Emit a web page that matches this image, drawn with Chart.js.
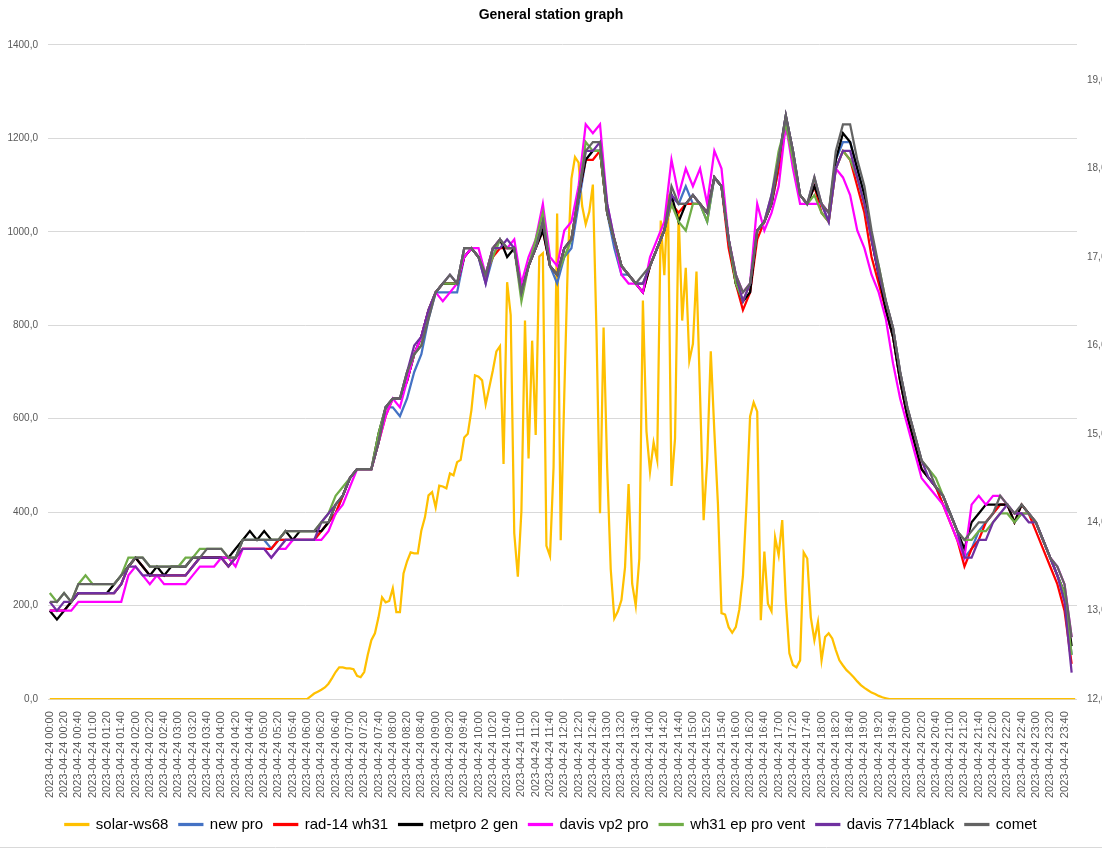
<!DOCTYPE html>
<html>
<head>
<meta charset="utf-8">
<title>General station graph</title>
<script src="https://cdn.jsdelivr.net/npm/chart.js@4.4.1/dist/chart.umd.min.js"></script>
<style>
  html, body { margin: 0; padding: 0; background: #fff; }
  #wrap { position: relative; width: 1102px; height: 850px; }
</style>
</head>
<body>
<div id="wrap"><canvas id="grafico" width="1102" height="850"></canvas></div>
<script>
// categorias: cada 5 minutos del 2023-04-24
const TIMES = [];
for (let h = 0; h < 24; h++) {
    for (let m = 0; m < 60; m += 5) {
        TIMES.push('2023-04-24 ' + String(h).padStart(2, '0') + ':' + String(m).padStart(2, '0'));
    }
}

const LEFT_TICKS = [0, 200, 400, 600, 800, 1000, 1200, 1400];
const RIGHT_TICKS = [12.6, 13.6, 14.6, 15.6, 16.6, 17.6, 18.6, 19.6];

// radiacion solar (W/m2), cada 5 minutos
const solarWs68 = [
    0,0,0,0,0,0,0,0,0,0,0,0,0,0,0,0,0,0,0,0,0,0,0,0,
    0,0,0,0,0,0,0,0,0,0,0,0,0,0,0,0,0,0,0,0,0,0,0,0,
    0,0,0,0,0,0,0,0,0,0,0,0,0,0,0,0,0,0,0,0,0,0,0,0,
    0,6,12,16,20,25,33,45,58,68,68,66,66,64,50,47,58,95,126,141,175,218,207,210,
    237,186,186,269,295,314,312,312,361,389,436,443,410,457,455,451,483,479,507,512,560,568,618,693,
    690,682,631,667,703,744,755,503,892,822,355,262,402,810,515,767,565,947,954,328,306,496,1039,340,
    651,938,1113,1160,1148,1055,1016,1043,1101,791,398,795,496,278,173,188,212,282,460,247,200,301,853,573,
    487,549,511,1024,907,1080,456,558,1039,810,923,724,760,915,651,383,511,744,573,418,184,181,154,142,
    154,192,263,418,605,635,615,169,316,204,188,346,308,383,212,98,73,68,83,314,301,175,126,165,
    83,133,141,130,105,83,72,62,55,47,38,30,24,19,14,11,7,4,2,0,0,0,0,0,
    0,0,0,0,0,0,0,0,0,0,0,0,0,0,0,0,0,0,0,0,0,0,0,0,
    0,0,0,0,0,0,0,0,0,0,0,0,0,0,0,0,0,0,0,0,0,0,0,0
];

// temperaturas (C), cada 10 minutos
const newPro = [
    13.6,13.6,13.6,13.7,13.8,13.8,13.8,13.8,13.8,13.8,
    13.9,14.1,14.2,14.1,14.0,14.0,14.0,14.0,14.0,14.0,
    14.1,14.2,14.2,14.2,14.2,14.1,14.2,14.4,14.4,14.4,
    14.4,14.3,14.4,14.4,14.4,14.4,14.4,14.4,14.5,14.6,
    14.7,14.9,15.1,15.2,15.2,15.2,15.5,15.9,15.9,15.8,
    16.0,16.3,16.5,16.9,17.2,17.2,17.2,17.2,17.6,17.7,
    17.6,17.3,17.6,17.8,17.7,17.7,17.2,17.5,17.7,18.0,
    17.5,17.3,17.6,17.7,18.2,18.7,18.8,18.8,18.1,17.7,
    17.4,17.4,17.3,17.3,17.5,17.7,17.9,18.3,18.2,18.4,
    18.2,18.2,18.0,18.5,18.4,17.8,17.3,17.1,17.2,17.9,
    18.0,18.2,18.6,19.1,18.7,18.3,18.2,18.4,18.2,18.0,
    18.7,18.9,18.9,18.6,18.3,17.8,17.4,17.0,16.7,16.2,
    15.8,15.5,15.2,15.1,15.0,14.8,14.7,14.5,14.2,14.3,
    14.5,14.6,14.7,14.8,14.8,14.6,14.7,14.7,14.6,14.4,
    14.2,14.0,13.8,13.1
];
const rad14Wh31 = [
    13.6,13.6,13.6,13.7,13.8,13.8,13.8,13.8,13.8,13.8,
    13.9,14.1,14.2,14.1,14.0,14.0,14.0,14.0,14.0,14.0,
    14.1,14.2,14.2,14.2,14.2,14.1,14.2,14.3,14.3,14.3,
    14.3,14.3,14.4,14.4,14.4,14.4,14.4,14.4,14.5,14.6,
    14.7,14.9,15.1,15.2,15.2,15.2,15.5,15.8,16.0,16.0,
    16.2,16.5,16.7,17.0,17.2,17.3,17.3,17.3,17.6,17.7,
    17.6,17.4,17.6,17.7,17.7,17.7,17.2,17.5,17.7,17.9,
    17.5,17.4,17.7,17.8,18.3,18.7,18.7,18.8,18.1,17.8,
    17.5,17.4,17.3,17.2,17.5,17.7,17.9,18.2,18.1,18.2,
    18.2,18.2,18.1,18.5,18.4,17.7,17.3,17.0,17.2,17.8,
    18.0,18.2,18.6,19.1,18.7,18.3,18.2,18.4,18.1,18.0,
    18.6,18.8,18.7,18.4,18.1,17.6,17.3,17.0,16.7,16.2,
    15.8,15.5,15.2,15.1,15.0,14.8,14.6,14.4,14.1,14.3,
    14.4,14.6,14.7,14.8,14.8,14.6,14.8,14.7,14.5,14.3,
    14.1,13.9,13.6,13.0
];
const metpro2Gen = [
    13.6,13.5,13.6,13.7,13.8,13.8,13.8,13.8,13.8,13.9,
    14.0,14.1,14.2,14.1,14.0,14.1,14.0,14.1,14.1,14.1,
    14.2,14.2,14.2,14.2,14.2,14.2,14.3,14.4,14.5,14.4,
    14.5,14.4,14.4,14.5,14.4,14.5,14.5,14.5,14.5,14.6,
    14.8,14.9,15.1,15.2,15.2,15.2,15.6,15.9,16.0,16.0,
    16.2,16.5,16.7,17.0,17.2,17.3,17.3,17.3,17.6,17.7,
    17.6,17.4,17.7,17.8,17.6,17.7,17.2,17.5,17.7,17.9,
    17.5,17.4,17.7,17.8,18.3,18.7,18.8,18.8,18.1,17.8,
    17.5,17.4,17.3,17.2,17.5,17.7,17.9,18.3,18.0,18.2,
    18.3,18.2,18.1,18.5,18.4,17.8,17.3,17.1,17.2,17.9,
    18.0,18.2,18.7,19.2,18.8,18.3,18.2,18.4,18.2,18.1,
    18.7,19.0,18.9,18.6,18.3,17.8,17.4,17.0,16.7,16.2,
    15.8,15.5,15.2,15.1,15.0,14.9,14.7,14.5,14.3,14.6,
    14.7,14.8,14.8,14.8,14.8,14.6,14.8,14.7,14.6,14.4,
    14.2,14.0,13.8,13.2
];
const davisVp2Pro = [
    13.6,13.6,13.6,13.6,13.7,13.7,13.7,13.7,13.7,13.7,
    13.7,14.0,14.1,14.0,13.9,14.0,13.9,13.9,13.9,13.9,
    14.0,14.1,14.1,14.1,14.2,14.2,14.1,14.3,14.3,14.3,
    14.3,14.2,14.3,14.3,14.4,14.4,14.4,14.4,14.4,14.5,
    14.7,14.8,15.0,15.2,15.2,15.2,15.5,15.8,16.0,15.9,
    16.2,16.5,16.7,17.0,17.2,17.1,17.2,17.3,17.6,17.7,
    17.7,17.4,17.7,17.8,17.7,17.8,17.3,17.6,17.8,18.2,
    17.6,17.5,17.9,18.0,18.4,19.1,19.0,19.1,18.2,17.8,
    17.4,17.3,17.3,17.2,17.6,17.8,18.0,18.7,18.3,18.6,
    18.4,18.6,18.2,18.8,18.6,17.8,17.4,17.2,17.3,18.2,
    17.9,18.1,18.4,19.1,18.6,18.2,18.2,18.2,18.2,18.1,
    18.6,18.5,18.3,17.9,17.7,17.4,17.2,16.9,16.4,16.0,
    15.7,15.4,15.1,15.0,14.9,14.8,14.6,14.4,14.2,14.8,
    14.9,14.8,14.9,14.9,14.8,14.7,14.7,14.7,14.6,14.4,
    14.2,14.1,13.9,13.3
];
const wh31EpProVent = [
    13.8,13.7,13.8,13.7,13.9,14.0,13.9,13.9,13.9,13.9,
    14.0,14.2,14.2,14.2,14.1,14.1,14.1,14.1,14.1,14.2,
    14.2,14.3,14.3,14.3,14.3,14.2,14.2,14.4,14.4,14.4,
    14.4,14.4,14.4,14.5,14.5,14.5,14.5,14.5,14.6,14.7,
    14.9,15.0,15.1,15.2,15.2,15.2,15.6,15.9,16.0,16.0,
    16.3,16.5,16.6,17.0,17.2,17.3,17.3,17.3,17.7,17.7,
    17.6,17.4,17.6,17.8,17.7,17.7,17.1,17.5,17.8,18.1,
    17.5,17.4,17.6,17.8,18.3,18.9,18.8,18.8,18.1,17.8,
    17.5,17.4,17.3,17.3,17.5,17.7,17.9,18.2,18.0,17.9,
    18.2,18.2,18.0,18.5,18.4,17.8,17.3,17.1,17.3,17.9,
    18.0,18.3,18.8,19.1,18.7,18.3,18.2,18.3,18.1,18.0,
    18.6,18.8,18.7,18.5,18.2,17.8,17.5,17.1,16.8,16.3,
    15.9,15.6,15.3,15.2,15.1,14.9,14.7,14.5,14.4,14.4,
    14.5,14.5,14.6,14.7,14.7,14.6,14.7,14.7,14.6,14.4,
    14.2,14.0,13.8,13.1
];
const davis7714Black = [
    13.7,13.6,13.7,13.7,13.8,13.8,13.8,13.8,13.8,13.8,
    13.9,14.1,14.1,14.0,14.0,14.0,14.0,14.0,14.0,14.0,
    14.1,14.2,14.2,14.2,14.2,14.1,14.2,14.3,14.3,14.3,
    14.3,14.2,14.3,14.4,14.4,14.4,14.4,14.4,14.6,14.7,
    14.8,14.9,15.1,15.2,15.2,15.2,15.5,15.9,16.0,16.0,
    16.3,16.6,16.7,17.0,17.2,17.3,17.4,17.3,17.7,17.7,
    17.6,17.3,17.7,17.7,17.8,17.7,17.2,17.5,17.7,18.0,
    17.5,17.4,17.7,17.8,18.3,18.8,18.8,18.9,18.2,17.8,
    17.5,17.4,17.3,17.3,17.5,17.7,17.9,18.3,18.2,18.2,
    18.3,18.2,18.1,18.5,18.4,17.8,17.4,17.1,17.3,17.9,
    18.0,18.3,18.7,19.2,18.8,18.3,18.2,18.5,18.2,18.0,
    18.6,18.8,18.8,18.5,18.2,17.8,17.4,17.1,16.8,16.3,
    15.9,15.6,15.3,15.1,15.0,14.9,14.7,14.5,14.2,14.2,
    14.4,14.4,14.6,14.7,14.8,14.7,14.7,14.6,14.6,14.4,
    14.2,14.0,13.7,12.9
];
const comet = [
    13.7,13.7,13.8,13.7,13.9,13.9,13.9,13.9,13.9,13.9,
    14.0,14.1,14.2,14.2,14.1,14.1,14.1,14.1,14.1,14.1,
    14.2,14.2,14.3,14.3,14.3,14.2,14.2,14.4,14.4,14.4,
    14.4,14.4,14.4,14.5,14.5,14.5,14.5,14.5,14.6,14.6,
    14.8,14.9,15.1,15.2,15.2,15.2,15.5,15.9,16.0,16.0,
    16.3,16.5,16.6,16.9,17.2,17.3,17.4,17.3,17.7,17.7,
    17.6,17.4,17.7,17.8,17.7,17.7,17.2,17.5,17.7,18.0,
    17.5,17.4,17.7,17.8,18.3,18.8,18.9,18.9,18.1,17.8,
    17.5,17.4,17.3,17.4,17.5,17.7,17.9,18.4,18.2,18.2,
    18.3,18.2,18.1,18.5,18.4,17.8,17.4,17.2,17.3,17.9,
    18.0,18.2,18.7,19.2,18.8,18.3,18.2,18.5,18.2,18.1,
    18.8,19.1,19.1,18.7,18.4,17.9,17.5,17.1,16.8,16.3,
    15.9,15.6,15.3,15.2,15.0,14.9,14.7,14.5,14.4,14.5,
    14.6,14.6,14.7,14.9,14.8,14.7,14.8,14.7,14.6,14.4,
    14.2,14.1,13.9,13.3
];

// las temperaturas van cada 10 min: se colocan en la categoria que les toca
function cada10(valores) {
    return valores.map((v, i) => ({ x: TIMES[i * 2], y: v }));
}

function coma(v) {
    return Number(v).toFixed(1).replace('.', ',');
}

const lineaInferior = {
    id: 'lineaInferior',
    afterDraw(chart) {
        const c = chart.ctx;
        c.save();
        c.strokeStyle = '#d9d9d9';
        c.lineWidth = 1;
        c.beginPath();
        c.moveTo(0, 847.5);
        c.lineTo(chart.width, 847.5);
        c.stroke();
        c.restore();
    }
};

function serie(label, data, color, eje, orden) {
    return {
        label: label,
        data: data,
        borderColor: color,
        backgroundColor: color,
        borderWidth: 2.25,
        pointRadius: 0,
        tension: 0,
        fill: false,
        yAxisID: eje,
        order: orden
    };
}

Chart.defaults.font.family = "'Liberation Sans', Arial, sans-serif";

const ctx = document.getElementById('grafico').getContext('2d');
new Chart(ctx, {
    type: 'line',
    data: {
        labels: TIMES,
        datasets: [
            serie('solar-ws68', solarWs68, '#FFC000', 'y', 8),
            serie('new pro', cada10(newPro), '#4472C4', 'y1', 7),
            serie('rad-14 wh31', cada10(rad14Wh31), '#FF0000', 'y1', 6),
            serie('metpro 2 gen', cada10(metpro2Gen), '#000000', 'y1', 5),
            serie('davis vp2 pro', cada10(davisVp2Pro), '#FF00FF', 'y1', 4),
            serie('wh31 ep pro vent', cada10(wh31EpProVent), '#70AD47', 'y1', 3),
            serie('davis 7714black', cada10(davis7714Black), '#7030A0', 'y1', 2),
            serie('comet', cada10(comet), '#636363', 'y1', 1)
        ]
    },
    options: {
        responsive: false,
        animation: false,
        layout: { padding: { top: 0, bottom: 8, left: 0, right: 0 } },
        plugins: {
            title: {
                display: true,
                text: 'General station graph',
                color: '#000',
                font: { size: 14, weight: 'bold' },
                padding: { top: 7, bottom: 21 }
            },
            legend: {
                position: 'bottom',
                labels: {
                    boxWidth: 23,
                    boxHeight: 1,
                    color: '#000',
                    font: { size: 15 },
                    padding: 11,
                    sort: (a, b) => a.datasetIndex - b.datasetIndex
                }
            },
            tooltip: { enabled: false }
        },
        scales: {
            x: {
                type: 'category',
                offset: true,
                grid: { display: false },
                border: { display: false },
                afterFit: s => { s.height += 4; },
                ticks: {
                    autoSkip: false,
                    minRotation: 90,
                    maxRotation: 90,
                    padding: 4,
                    color: '#595959',
                    font: { size: 11 },
                    callback: function(v, i) { return i % 4 === 0 ? TIMES[i] : ''; }
                }
            },
            y: {
                position: 'left',
                min: 0,
                max: 1400,
                afterBuildTicks: s => { s.ticks = LEFT_TICKS.map(v => ({ value: v })); },
                afterFit: s => { s.width = 48; },
                grid: { color: '#d9d9d9', drawTicks: false },
                border: { display: false },
                ticks: { color: '#595959', font: { size: 10 }, padding: 10, callback: v => coma(v) }
            },
            y1: {
                position: 'right',
                min: 12.6,
                max: 20.0,
                afterBuildTicks: s => { s.ticks = RIGHT_TICKS.map(v => ({ value: v })); },
                afterFit: s => { s.width = 25; },
                grid: { display: false, drawTicks: false },
                border: { display: false },
                ticks: { color: '#595959', font: { size: 10 }, padding: 10, callback: v => coma(v) }
            }
        }
    },
    plugins: [lineaInferior]
});
</script>
</body>
</html>
